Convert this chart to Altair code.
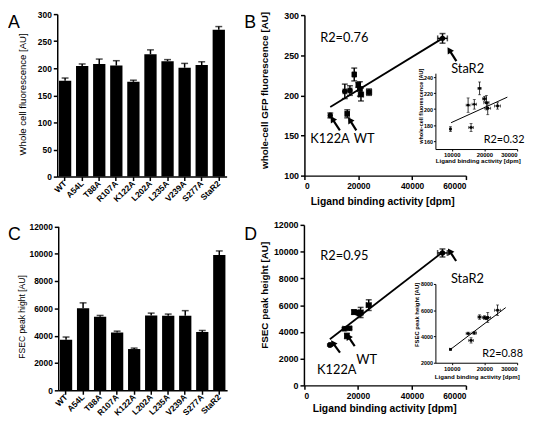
import altair as alt
import pandas as pd

# ---------------- data ----------------
mutants = ["WT", "A54L", "T88A", "R107A", "K122A", "L202A", "L235A", "V239A", "S277A", "StaR2"]
fluorescence = [177, 204, 208, 205, 175, 226, 213, 201, 206, 271]
fluorescence_err = [5, 4, 9, 9, 3, 8, 3, 8, 6, 6]
fsec_height = [3700, 6000, 5380, 4230, 3020, 5480, 5450, 5450, 4270, 9900]
fsec_err = [200, 400, 100, 100, 70, 170, 130, 380, 110, 300]
binding_dpm = [15900, 24000, 20600, 15000, 9600, 18500, 20000, 21000, 16900, 51300]
binding_err = [700, 900, 800, 600, 300, 500, 600, 900, 700, 1800]
circle_mutants = ["R107A", "K122A", "S277A", "StaR2"]

fit_main_dpm = [9600, 51300]
fit_b_fluo = [185.5, 271]
fit_d_fsec = [3450, 9950]
fit_inset_b_dpm = [9800, 27000]
fit_inset_b_fluo = [183, 215]
fit_inset_d_dpm = [9800, 26500]
fit_inset_d_fsec = [3050, 6200]

notes = ["R2=0.76", "StaR2", "K122A", "WT"]
notes_d = ["R2=0.95", "StaR2", "K122A", "WT"]
notes_b_dpm = [5850, 54500, 2200, 18300]
notes_b_fluo = [271, 232.5, 146, 146]
notes_d_dpm = [6070, 54440, 4870, 19420]
notes_d_fsec = [9650, 7960, 1125, 1930]

arrow_b_from_dpm = [56450, 13170, 19280]
arrow_b_from_fluo = [242.6, 156.3, 156.3]
arrow_b_to_dpm = [53780, 10350, 16830]
arrow_b_to_fluo = [256.6, 170.7, 169.5]
arrow_d_from_dpm = [56360, 13350, 18800]
arrow_d_from_fsec = [9300, 2447, 2940]
arrow_d_to_dpm = [53960, 10690, 16360]
arrow_d_to_fsec = [10040, 3180, 3670]

inset_b_note = ["R2=0.32"]
inset_b_note_dpm = [19800]
inset_b_note_fluo = [161]
inset_d_note = ["R2=0.88"]
inset_d_note_dpm = [19300]
inset_d_note_fsec = [2675]

# ---------------- layout helpers ----------------
W, H = 527, 416
OFF = 8


def px(v):
    return v - OFF


BASE_AX = dict(domainColor="black", tickColor="black", labelColor="black", titleColor="black",
               labelFont="Liberation Sans", titleFont="Liberation Sans", labelFontWeight="bold",
               grid=False, labelOverlap=False)


def left_axis(ref_x, values, title, t_x, t_y, lab, tsz, tw, tick=4, width=1.5, pad=2):
    ax = px(ref_x)
    return alt.Axis(orient="left", offset=-ax, values=values, format="d", title=title,
                    titleX=px(t_x) - ax, titleY=px(t_y), titleAngle=270, titleAlign="center",
                    titleBaseline="middle", titleFontSize=tsz, titleFontWeight=tw,
                    labelFontSize=lab, tickSize=tick, domainWidth=width, tickWidth=width,
                    labelPadding=pad, **BASE_AX)


def bottom_axis(ref_y, values, title, t_x, t_y, lab, tsz, tick=4, width=1.5, pad=2):
    ay = px(ref_y)
    return alt.Axis(orient="bottom", offset=ay - H, values=values, format="d", title=title,
                    titleX=px(t_x), titleY=px(t_y) - ay, titleAlign="center", titleBaseline="middle",
                    titleFontSize=tsz, titleFontWeight="bold", labelFontSize=lab, tickSize=tick,
                    domainWidth=width, tickWidth=width, labelPadding=pad, **BASE_AX)


# ---------------- tables ----------------
bars = pd.DataFrame({
    "mutant": mutants,
    "fl": fluorescence,
    "fl_hi": [v + e for v, e in zip(fluorescence, fluorescence_err)],
    "fs": fsec_height,
    "fs_hi": [v + e for v, e in zip(fsec_height, fsec_err)],
})

pts = pd.DataFrame({
    "mutant": mutants,
    "dpm": binding_dpm,
    "dlo": [v - e for v, e in zip(binding_dpm, binding_err)],
    "dhi": [v + e for v, e in zip(binding_dpm, binding_err)],
    "fl": fluorescence,
    "fl_lo": [v - e for v, e in zip(fluorescence, fluorescence_err)],
    "fl_hi": [v + e for v, e in zip(fluorescence, fluorescence_err)],
    "fs": fsec_height,
    "fs_lo": [v - e for v, e in zip(fsec_height, fsec_err)],
    "fs_hi": [v + e for v, e in zip(fsec_height, fsec_err)],
})
pts["circ"] = pts["mutant"].isin(circle_mutants)
pts_inset = pts[pts["mutant"] != "StaR2"]


# ---------------- bar panels ----------------
def bar_panel(field, hi, x_range, ax_ref_x, base_ref_y, top_ref_y, ymax, yvals, title, t_x, t_y, t_size):
    xenc = alt.X("mutant:N", sort=mutants, title=None,
                 scale=alt.Scale(domain=mutants, range=[px(x_range[0]), px(x_range[1])],
                                 paddingInner=0.28, paddingOuter=0.1),
                 axis=alt.Axis(orient="bottom", offset=px(base_ref_y) - H, labelAngle=315,
                               labelAlign="right", labelBaseline="middle", labelFontSize=8.5,
                               tickSize=4, domainWidth=1.5, tickWidth=1.5, labelPadding=1, **BASE_AX))
    sc = alt.Scale(domain=[0, ymax], range=[px(base_ref_y), px(top_ref_y)], nice=False, zero=False)
    ax = left_axis(ax_ref_x, yvals, title, t_x, t_y, 8.5, t_size, "normal")

    def Y(f):
        return alt.Y(f, type="quantitative", scale=sc, axis=ax)

    b = alt.Chart(bars)
    return alt.layer(
        b.mark_rule(color="black", strokeWidth=1.5).encode(x=xenc, y=Y(field), y2=alt.Y2(hi)),
        b.mark_tick(color="black", thickness=1.5, size=7, orient="horizontal").encode(x=xenc, y=Y(hi)),
        b.mark_bar(color="black").encode(x=xenc, y=Y(field)),
    )


panelA = bar_panel("fl", "fl_hi", (58, 230), 58, 176, 11, 300, [0, 50, 100, 150, 200, 250, 300],
                   "Whole cell fluorescence [AU]", 22.5, 92, 9.7)
panelC = bar_panel("fs", "fs_hi", (59, 230.5), 59, 393, 226.5, 12000,
                   [0, 2000, 4000, 6000, 8000, 10000, 12000],
                   "FSEC peak hight [AU]", 21.7, 318, 8.7)


# ---------------- scatter panels ----------------
def scatter_panel(data, yv, ylo, yhi, xsc, ysc, xax, yax, pt_size, cap, lw, fit_x, fit_y,
                  note_df, note_size, arrows=None):
    def X(f):
        return alt.X(f, type="quantitative", scale=xsc, axis=xax)

    def Y(f):
        return alt.Y(f, type="quantitative", scale=ysc, axis=yax)

    c = alt.Chart(data)
    layers = [
        c.mark_rule(color="black", strokeWidth=lw).encode(x=X("dpm"), y=Y(ylo), y2=alt.Y2(yhi)),
        c.mark_rule(color="black", strokeWidth=lw).encode(y=Y(yv), x=X("dlo"), x2=alt.X2("dhi")),
        c.mark_tick(color="black", thickness=lw, size=cap, orient="horizontal").encode(x=X("dpm"), y=Y(ylo)),
        c.mark_tick(color="black", thickness=lw, size=cap, orient="horizontal").encode(x=X("dpm"), y=Y(yhi)),
        c.mark_tick(color="black", thickness=lw, size=cap, orient="vertical").encode(x=X("dlo"), y=Y(yv)),
        c.mark_tick(color="black", thickness=lw, size=cap, orient="vertical").encode(x=X("dhi"), y=Y(yv)),
        c.transform_filter("datum.circ").mark_point(shape="circle", filled=True, color="black",
                                                    opacity=1, size=pt_size).encode(x=X("dpm"), y=Y(yv)),
        c.transform_filter("!datum.circ").mark_point(shape="square", filled=True, color="black",
                                                     opacity=1, size=pt_size).encode(x=X("dpm"), y=Y(yv)),
        alt.Chart(pd.DataFrame({"fx": fit_x, "fy": fit_y})).mark_line(
            color="black", strokeWidth=1.8 if pt_size > 15 else 1).encode(x=X("fx"), y=Y("fy")),
        alt.Chart(note_df).mark_text(font="Lato", fontSize=note_size, align="left", baseline="middle",
                                     color="black").encode(x=X("nx"), y=Y("ny"), text="t:N"),
    ]
    if arrows is not None:
        a = alt.Chart(arrows)
        layers.append(a.mark_rule(color="black", strokeWidth=2.2).encode(
            x=X("tx"), y=Y("ty"), x2=alt.X2("hx"), y2=alt.Y2("hy")))
        layers.append(a.mark_point(shape="triangle-up", filled=True, color="black", opacity=1,
                                   size=55, angle=328).encode(x=X("hx"), y=Y("hy")))
    return alt.layer(*layers)


main_x_vals = [0, 20000, 40000, 60000]
inset_x_vals = [10000, 20000, 30000]

# panel B
xsB = alt.Scale(domain=[0, 60000], range=[px(309), px(473)], nice=False, zero=False)
ysB = alt.Scale(domain=[100, 300], range=[px(175), px(12)], nice=False, zero=False)
xaB = bottom_axis(175, main_x_vals, "Ligand binding activity [dpm]", 388, 201, 8.5, 10.5)
yaB = left_axis(309, [100, 150, 200, 250, 300], "whole-cell GFP fluorescence [AU]", 268, 88, 9, 10, "bold")
panelB = scatter_panel(
    pts, "fl", "fl_lo", "fl_hi", xsB, ysB, xaB, yaB, 30, 6, 1.5, fit_main_dpm, fit_b_fluo,
    pd.DataFrame({"t": notes, "nx": notes_b_dpm, "ny": notes_b_fluo}), 13,
    pd.DataFrame({"tx": arrow_b_from_dpm, "ty": arrow_b_from_fluo, "hx": arrow_b_to_dpm, "hy": arrow_b_to_fluo}))

# inset B
xsBi = alt.Scale(domain=[5000, 30000], range=[px(442), px(525)], nice=False, zero=False)
ysBi = alt.Scale(domain=[150, 245], range=[px(148), px(71)], nice=False, zero=False)
xaBi = bottom_axis(148, inset_x_vals, "Ligand binding activity [dpm]", 485, 160, 6, 6.2, tick=2, width=1, pad=1)
yaBi = left_axis(442, [160, 180, 200, 220, 240], "whole-cell fluorescence [AU]", 427, 104, 5.5, 5.6, "bold",
                 tick=2, width=1, pad=1)
panelBi = scatter_panel(
    pts_inset, "fl", "fl_lo", "fl_hi", xsBi, ysBi, xaBi, yaBi, 7, 3, 0.8, fit_inset_b_dpm, fit_inset_b_fluo,
    pd.DataFrame({"t": inset_b_note, "nx": inset_b_note_dpm, "ny": inset_b_note_fluo}), 11)

# panel D
xsD = alt.Scale(domain=[0, 60000], range=[px(308.5), px(473)], nice=False, zero=False)
ysD = alt.Scale(domain=[0, 12000], range=[px(388), px(225)], nice=False, zero=False)
xaD = bottom_axis(388, main_x_vals, "Ligand binding activity [dpm]", 390, 411.5, 8.5, 10.5)
yaD = left_axis(308.5, [0, 2000, 4000, 6000, 8000, 10000, 12000], "FSEC peak height [AU]", 268, 296,
                9, 10, "bold")
panelD = scatter_panel(
    pts, "fs", "fs_lo", "fs_hi", xsD, ysD, xaD, yaD, 30, 6, 1.5, fit_main_dpm, fit_d_fsec,
    pd.DataFrame({"t": notes_d, "nx": notes_d_dpm, "ny": notes_d_fsec}), 13,
    pd.DataFrame({"tx": arrow_d_from_dpm, "ty": arrow_d_from_fsec, "hx": arrow_d_to_dpm, "hy": arrow_d_to_fsec}))

# inset D
xsDi = alt.Scale(domain=[5000, 30000], range=[px(442), px(525)], nice=False, zero=False)
ysDi = alt.Scale(domain=[2000, 8000], range=[px(365), px(285)], nice=False, zero=False)
xaDi = bottom_axis(365, inset_x_vals, "Ligand binding activity [dpm]", 484, 379, 6, 6.2, tick=2, width=1, pad=1)
yaDi = left_axis(442, [2000, 4000, 6000, 8000], "FSEC peak height [AU]", 423, 316, 5.5, 6, "bold",
                 tick=2, width=1, pad=1)
panelDi = scatter_panel(
    pts_inset, "fs", "fs_lo", "fs_hi", xsDi, ysDi, xaDi, yaDi, 7, 3, 0.8, fit_inset_d_dpm, fit_inset_d_fsec,
    pd.DataFrame({"t": inset_d_note, "nx": inset_d_note_dpm, "ny": inset_d_note_fsec}), 11)

# panel letters
dummy = pd.DataFrame({"k": [0]})
letters = []
for txt, lx, ly in [("A", 8, 25), ("B", 248, 25), ("C", 8, 240), ("D", 248, 240)]:
    letters.append(alt.Chart(dummy).mark_text(font="Liberation Sans", fontSize=18, align="left",
                                              baseline="alphabetic", color="black").encode(
        x=alt.value(px(lx)), y=alt.value(px(ly)), text=alt.value(txt)))

chart = alt.layer(panelA, panelC, panelB, panelBi, panelD, panelDi, *letters).resolve_scale(
    x="independent", y="independent"
).properties(
    width=W, height=H, autosize=alt.AutoSizeParams(type="none"), padding=0
).configure_view(strokeWidth=0)

chart.save("out.html", embed_options={"renderer": "svg", "actions": False})
